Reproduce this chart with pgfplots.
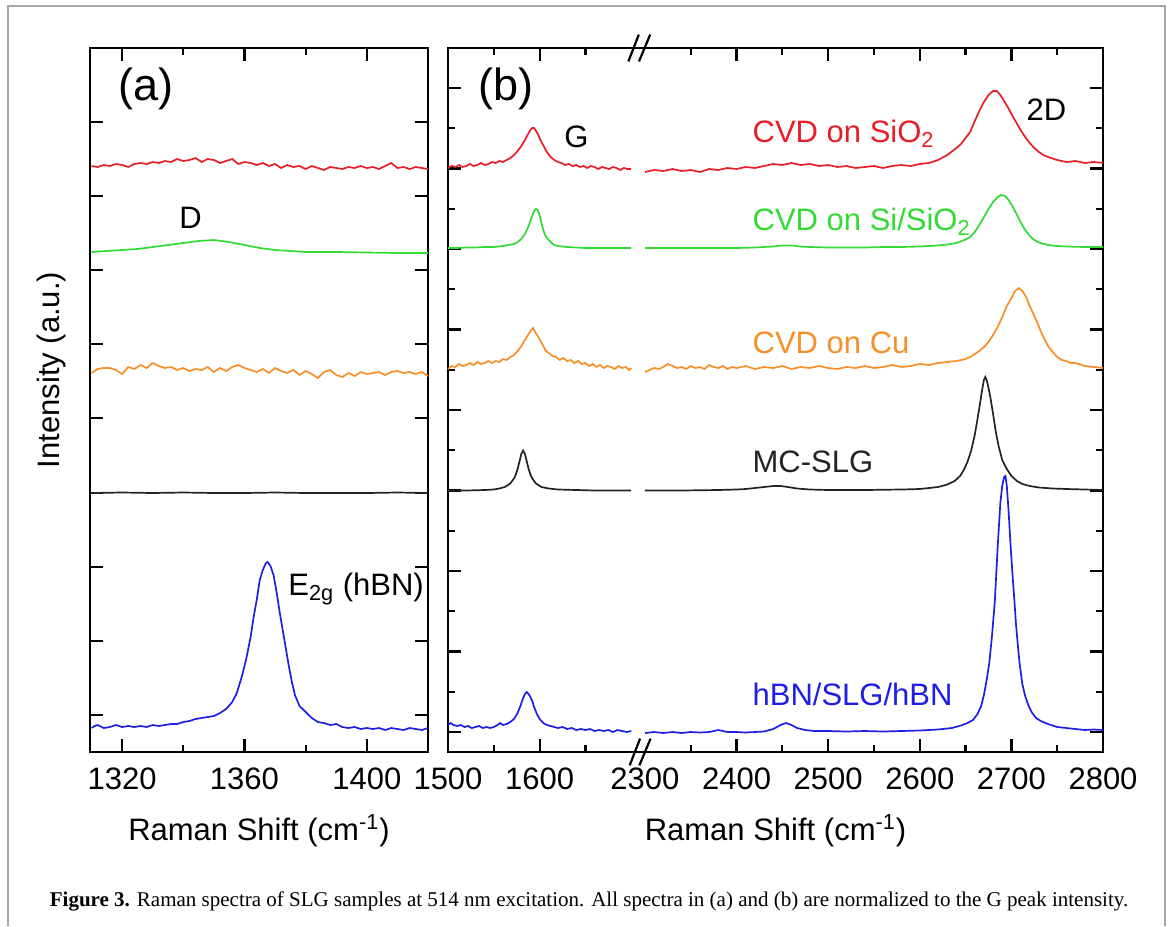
\documentclass[border=0pt]{standalone}
\usepackage{fontspec}
\setmainfont{Liberation Sans}
\newfontfamily\capfont{Liberation Serif}
\usepackage{pgfplots}
\pgfplotsset{compat=1.18}

\definecolor{cred}{RGB}{232,30,38}
\definecolor{cgreen}{RGB}{52,218,52}
\definecolor{corange}{RGB}{247,142,40}
\definecolor{cblack}{RGB}{35,35,35}
\definecolor{cblue}{RGB}{30,30,228}

\pgfplotsset{
  myaxis/.style={
    scale only axis, height=352pt, ymin=0, ymax=704,
    line width=1.4pt,
    tick align=inside, xtick pos=both, ytick pos=both, xticklabel pos=lower,
    major tick length=6.5pt, minor tick length=3.5pt,
    tick style={line width=1.1pt, black},
    yticklabel=\empty,
    tick label style={font=\fontsize{15.5}{18}\selectfont},
    xticklabel style={yshift=-4pt},
    label style={font=\fontsize{15.5}{18}\selectfont},
    xlabel={Raman Shift (cm\textsuperscript{-1})},
    xlabel style={at={(axis description cs:0.5,0)}, anchor=base, yshift=-44pt},
    clip=false,
  },
  spec/.style={line width=0.85pt, mark=none},
}
\newcommand{\lbl}{\fontsize{15.5}{18}\selectfont}

\begin{document}
\begin{tikzpicture}
\path[use as bounding box] (0pt,0pt) rectangle (585.5pt,-463pt);
\draw[black!35, line width=0.6pt] (4pt,-463pt) -- (4pt,-3pt) -- (582.5pt,-3pt) -- (582.5pt,-463pt);

%================ panel (a)
\begin{axis}[myaxis, at={(45pt,-376pt)}, anchor=south west, width=169pt,
  xmin=1309.5, xmax=1420,
  xtick={1320,1360,1400}, xticklabels={1320,1360,1400},
  minor xtick={1340,1380},
  ytick={37,111,185,259,334,408,482,556,630},
  ylabel={Intensity (a.u.)},
  ylabel style={at={(axis description cs:-0.0888,0.5426)}, anchor=base},
]
\addplot[spec, cred] table {
x y
1310 586
1312 585
1314 587
1316 586
1318 588
1320 587
1322 585
1324 588
1326 589
1328 588
1330 590
1332 589
1334 591
1336 590
1338 593
1340 591
1342 592
1344 594
1346 590
1348 593
1350 592
1352 589
1354 591
1356 593
1358 588
1360 590
1362 589
1364 587
1366 589
1368 586
1370 588
1372 584
1374 587
1376 585
1378 586
1380 583
1382 586
1384 584
1386 582
1388 585
1390 584
1392 583
1394 585
1396 584
1398 586
1400 584
1402 585
1404 583
1406 586
1408 589
1410 584
1412 585
1414 583
1416 585
1418 584
1420 583
};
\addplot[spec, cgreen] table {
x y
1310 500
1315 501
1320 502
1325 503
1330 505
1335 507
1340 509
1345 511
1350 512
1355 510
1360 507
1365 504
1370 502
1375 501
1380 500
1390 500
1400 499.5
1410 499
1420 499
};
\addplot[spec, corange] table {
x y
1310 379
1312 383
1314 384
1316 384
1318 382
1320 378
1322 385
1324 383
1326 387
1328 384
1330 389
1332 386
1334 384
1336 385
1338 382
1340 384
1342 381
1344 383
1346 382
1348 385
1350 380
1352 384
1354 381
1356 385
1358 387
1360 384
1362 382
1364 380
1366 383
1368 379
1370 384
1372 381
1374 379
1376 382
1378 377
1380 381
1382 378
1384 374
1386 380
1388 382
1390 377
1392 375
1394 379
1396 376
1398 380
1400 378
1402 379
1404 380
1406 377
1408 380
1410 381
1412 379
1414 380
1416 378
1418 380
1420 376
};
\addplot[spec, cblack] table {
x y
1310 259
1320 259.5
1330 259
1340 259.5
1350 259
1360 259
1370 259.5
1380 259
1390 259
1400 259
1410 259.5
1420 259
};
\addplot[spec, cblue] table {
x y
1310 24
1311 26
1312 27
1314 24
1316 25
1318 27
1320 25
1322 26
1324 25
1326 26
1328 25
1330 27
1332 26
1334 27
1336 28
1338 28
1340 30
1342 31
1344 33
1346 34
1348 35
1350 36
1352 39
1354 43
1356 50
1357.5 59
1359 74
1360.5 92
1362 115
1363 135
1364 152
1365 172
1366 182
1367 189
1367.6 190
1368.5 186
1369.5 177
1370.5 160
1371.5 140
1372.5 122
1373.5 104
1374.5 86
1375.5 70
1376.5 57
1378 46
1380 40
1382 34
1384 30
1386 29
1388 27
1390 28
1392 25
1394 24
1396 25
1398 23
1400 24
1402 23
1404 24
1406 22
1408 24
1410 23
1412 22
1414 24
1416 23
1418 22
1420 24
};
\node[anchor=base west, inner sep=0, font=\fontsize{22.5}{26}\selectfont] at (axis cs:1318.3,651.5) {(a)};
\node[anchor=base west, inner sep=0, font=\lbl] at (axis cs:1338.3,524) {D};
\node[anchor=base west, inner sep=0, font=\lbl] at (axis cs:1373.9,157) {E\textsubscript{2g} (hBN)};
\end{axis}

%================ panel (b)
\begin{axis}[myaxis, at={(224pt,-376pt)}, anchor=south west, width=327.5pt,
  xmin=1500, xmax=2215,
  x filter/.expression={x>2000 ? x-585 : x},
  xtick={1500,1600,1815,1915,2015,2115,2215},
  xticklabels={1500,1600,2400,2500,2600,2700,2800},
  minor xtick={1550,1650,1765,1865,1965,2065,2165},
  extra x ticks={1715}, extra x tick labels={2300},
  extra x tick style={major tick length=0pt},
  ytick={20,100.5,181,261.5,342,422.5,503,583.5,664},
  minor ytick={60.25,140.75,221.25,301.75,382.25,462.75,543.25,623.75},
]
% ---- red
\addplot[spec, cred] table {
x y
1500 584
1504 586
1508 585
1512 587
1516 585
1520 586
1524 588
1528 586
1532 587
1536 589
1540 587
1544 588
1548 590
1552 589
1556 591
1560 590
1564 592
1568 594
1572 597
1576 601
1580 606
1584 612
1588 619
1590 622
1592 624
1594 624
1596 621
1598 618
1600 614
1602 610
1605 605
1608 600
1612 595
1616 592
1620 590
1624 589
1628 587
1632 588
1636 586
1640 587
1644 585
1648 586
1652 584
1656 586
1660 585
1664 583
1668 585
1672 584
1676 583
1680 585
1684 584
1688 582
1692 584
1696 583
1700 583
};
\addplot[spec, cred] table {
x y
2300 580
2310 582
2320 581
2330 583
2340 581
2350 582
2360 580
2370 583
2380 582
2390 584
2400 583
2410 585
2420 584
2430 586
2440 588
2450 587
2460 589
2470 587
2480 588
2490 586
2500 587
2510 585
2520 586
2530 584
2540 585
2550 586
2560 584
2570 586
2580 587
2590 586
2600 588
2610 589
2620 592
2630 597
2640 604
2645 608
2650 614
2655 620
2660 631
2665 641
2670 650
2675 657
2680 661
2684 661
2688 657
2692 651
2696 645
2700 638
2705 630
2710 622
2715 615
2720 609
2725 604
2730 600
2735 597
2740 595
2750 592
2760 590
2770 591
2780 589
2790 590
2800 589
};
% ---- green
\addplot[spec, cgreen] table {
x y
1500 504
1510 504
1520 504.5
1530 504.5
1540 505
1550 505
1560 506
1566 507
1572 508
1576 510
1580 513
1584 518
1588 526
1591 534
1594 541
1596 543
1598 542
1600 537
1602 529
1604 522
1606 517
1608 514
1612 510
1616 507
1620 506
1630 505
1640 504.5
1650 504
1660 504
1670 504
1680 504
1690 504
1700 504
};
\addplot[spec, cgreen] table {
x y
2300 504
2320 504
2340 504
2360 504
2380 504
2400 504
2420 504.5
2440 505.5
2450 506.5
2460 506.5
2470 505.5
2480 505
2500 504.5
2520 504.5
2540 504.5
2560 505
2580 505
2600 505.5
2620 506.5
2630 507.5
2640 509
2650 512.5
2655 515
2660 520
2665 527
2670 535
2675 543
2680 550
2685 555
2689 557
2693 556
2697 552
2701 546
2705 539
2710 530
2715 522
2720 516
2725 512
2730 509.5
2740 507
2750 506
2760 505.5
2780 505
2800 505
};
% ---- orange
\addplot[spec, corange] table {
x y
1500 383
1504 386
1508 385
1512 388
1516 386
1520 387
1524 389
1528 387
1532 390
1536 388
1540 389
1544 391
1548 389
1552 391
1556 390
1560 393
1564 392
1568 395
1572 397
1576 401
1580 406
1584 412
1588 418
1591 422
1593 424
1595 420
1598 416
1601 411
1604 406
1607 401
1610 399
1614 396
1618 395
1622 392
1626 394
1630 391
1634 392
1638 389
1642 391
1646 388
1650 389
1654 386
1658 388
1662 385
1666 387
1670 384
1674 386
1678 385
1682 383
1686 386
1690 384
1694 385
1698 382
1700 384
};
\addplot[spec, corange] table {
x y
2300 380
2305 382
2310 384
2315 383
2320 385
2325 388
2330 386
2335 384
2340 385
2345 383
2350 386
2355 384
2360 385
2365 383
2370 387
2375 385
2380 384
2385 386
2390 383
2395 385
2400 384
2410 386
2420 383
2430 385
2440 384
2450 386
2460 383
2470 385
2480 384
2490 386
2500 384
2510 383
2520 385
2530 384
2540 386
2550 384
2560 385
2570 387
2580 385
2590 386
2600 388
2610 387
2620 389
2630 390
2640 391
2650 393
2655 395
2660 398
2665 401
2670 405
2675 410
2680 417
2685 425
2690 435
2695 446
2700 454
2704 461
2708 464
2712 461
2716 455
2720 446
2724 438
2728 430
2732 421
2736 413
2740 406
2745 400
2750 395
2755 392
2760 391
2765 389
2770 389
2780 386
2790 385
2800 384
};
% ---- black
\addplot[spec, cblack] table {
x y
1500 261.5
1520 261.5
1540 262
1550 262.5
1556 263.5
1562 265
1568 268.5
1572 273.5
1574 277.5
1576 283
1578 290.5
1580 298
1582 301.5
1584 298
1586 290.5
1588 283
1590 277.5
1592 273.5
1596 268.5
1602 265
1610 263.5
1620 262.5
1640 262
1660 261.5
1700 261.5
};
\addplot[spec, cblack] table {
x y
2300 261.5
2340 261.5
2380 262
2400 262.5
2410 263
2420 264
2430 265
2440 266
2448 266
2456 265
2466 263.5
2480 262.5
2500 262
2540 262
2580 262.5
2600 263
2610 264
2620 265
2630 267.5
2638 271
2644 276
2648 282
2652 290
2656 301
2660 317
2663 333
2666 350
2668 362
2670 372
2671.5 375
2673 372
2675 364
2677 355
2680 338
2683 320
2686 306
2690 292
2695 283
2700 276
2706 271
2712 268
2720 266
2730 264.5
2745 263.5
2760 263
2780 262.5
2800 262
};
% ---- blue
\addplot[spec, cblue] table {
x y
1500 27
1503 29
1506 27
1510 26
1514 27
1518 25
1522 26
1526 24
1530 25
1534 26
1538 24
1542 25
1546 24
1550 25
1554 27
1557 29
1560 27
1564 28
1568 30
1572 33
1576 39
1579 46
1582 54
1584 58
1586 60
1588 58
1590 55
1592 51
1594 45
1597 38
1600 33
1604 29
1608 27
1612 26
1616 25
1620 24
1625 25
1630 23
1635 24
1640 22
1645 23
1650 22
1655 23
1660 21
1665 22
1670 21
1675 22
1680 20
1685 22
1690 21
1695 20
1700 21
};
\addplot[spec, cblue] table {
x y
2300 19
2310 20
2320 19
2330 20
2340 19
2350 20
2360 19.5
2370 20
2380 22
2385 21
2390 20
2400 20
2410 19.5
2420 20
2430 20.5
2440 23
2448 27
2454 29
2460 27
2466 24
2475 22
2485 21
2500 21
2520 20.5
2540 21
2560 20.5
2580 21
2600 21.5
2620 22.5
2635 24
2645 26.5
2652 29
2658 32
2663 38
2667 46
2670 57
2673 72
2676 90
2679 118
2682 152
2685 205
2688 250
2690 266
2692 275
2693.5 276
2695 266
2697 240
2699 208
2701 180
2703 155
2705 128
2707 107
2709 88
2712 68
2715 56
2718 48
2722 40
2727 34
2732 31
2740 28
2750 25
2760 24
2770 23
2780 22
2790 22.5
2800 22
};
% break marks
\draw[line width=1.1pt] (axis cs:1702.6,704) ++(-2.6pt,-6.7pt) -- ++(5.2pt,13.4pt);
\draw[line width=1.1pt] (axis cs:1714.6,704) ++(-2.8pt,-6.7pt) -- ++(5.6pt,13.4pt);
\draw[line width=1.1pt] (axis cs:1704,0) ++(-2.6pt,-6.7pt) -- ++(5.2pt,13.4pt);
\draw[line width=1.1pt] (axis cs:1715,0) ++(-2.8pt,-6.7pt) -- ++(5.6pt,13.4pt);
% labels
\node[anchor=base west, inner sep=0, font=\fontsize{22.5}{26}\selectfont] at (axis cs:1531.7,651.5) {(b)};
\node[anchor=base west, inner sep=0, font=\lbl] at (axis cs:1625.5,605) {G};
\node[anchor=base west, inner sep=0, font=\lbl] at (axis cs:2130,632) {2D};
\node[anchor=base west, inner sep=0, font=\lbl, text=cred] at (axis cs:1831,610) {CVD on SiO\textsubscript{2}};
\node[anchor=base west, inner sep=0, font=\lbl, text=cgreen] at (axis cs:1831,522) {CVD on Si/SiO\textsubscript{2}};
\node[anchor=base west, inner sep=0, font=\lbl, text=corange] at (axis cs:1831,399) {CVD on Cu};
\node[anchor=base west, inner sep=0, font=\lbl, text=cblack] at (axis cs:1831,280) {MC-SLG};
\node[anchor=base west, inner sep=0, font=\lbl, text=cblue] at (axis cs:1831,47) {hBN/SLG/hBN};
\end{axis}

\node[anchor=base, inner sep=0, font=\capfont\fontsize{10.5}{12.5}\selectfont] at (294.5pt,-453pt)
  {\textbf{Figure 3.} Raman spectra of SLG samples at 514 nm excitation. All spectra in (a) and (b) are normalized to the G peak intensity.};
\end{tikzpicture}
\end{document}
